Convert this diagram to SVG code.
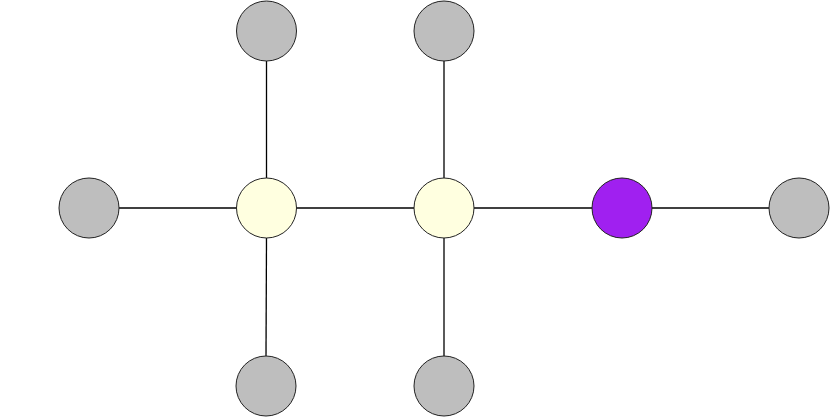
<svg xmlns="http://www.w3.org/2000/svg" width="830" height="417" viewBox="0 0 830 417">
<style>
.e{stroke:#000;stroke-width:1.3;fill:none}
.n{stroke:#222;stroke-width:1}
.g{fill:#bebebe}
.y{fill:#ffffe0}
.p{fill:#a020f0}
</style>
<rect width="830" height="417" fill="#fff"/>
<g id="edges">
<line class="e" x1="266.5" y1="61" x2="266.5" y2="178"/>
<line class="e" x1="444" y1="61" x2="444" y2="178"/>
<line class="e" x1="119" y1="208" x2="236.5" y2="208"/>
<line class="e" x1="296.5" y1="208" x2="414" y2="208"/>
<line class="e" x1="474" y1="208" x2="592" y2="208"/>
<line class="e" x1="652" y1="208" x2="769" y2="208"/>
<line class="e" x1="266.5" y1="238" x2="266" y2="356"/>
<line class="e" x1="444" y1="238" x2="444" y2="356"/>
</g>
<g id="n1"><circle class="n g" cx="266.5" cy="31" r="30"/></g>
<g id="n2"><circle class="n g" cx="444" cy="31" r="30"/></g>
<g id="n3"><circle class="n g" cx="89" cy="208" r="30"/></g>
<g id="n4"><circle class="n y" cx="266.5" cy="208" r="30"/></g>
<g id="n5"><circle class="n y" cx="444" cy="208" r="30"/></g>
<g id="n6"><circle class="n p" cx="622" cy="208" r="30"/></g>
<g id="n7"><circle class="n g" cx="799" cy="208" r="30"/></g>
<g id="n8"><circle class="n g" cx="266" cy="386" r="30"/></g>
<g id="n9"><circle class="n g" cx="444" cy="386" r="30"/></g>
</svg>
